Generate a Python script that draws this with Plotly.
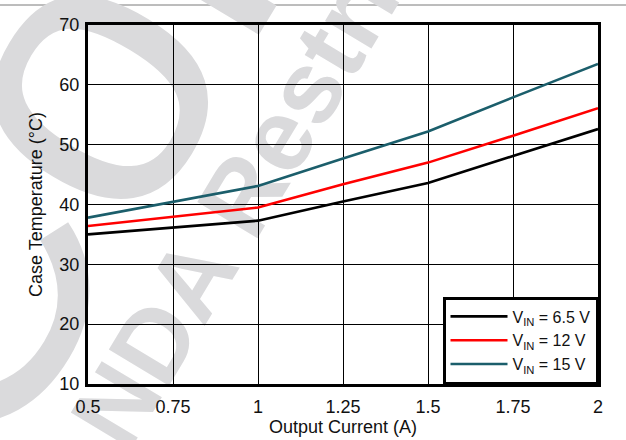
import plotly.graph_objects as go

# ---- data ----
current = [0.5, 0.75, 1.0, 1.25, 1.5, 1.75, 2.0]
temp_vin_6p5 = [35.0, 36.1, 37.3, 40.5, 43.6, 48.1, 52.6]
temp_vin_12 = [36.4, 37.9, 39.5, 43.4, 47.0, 51.5, 56.1]
temp_vin_15 = [37.8, 40.4, 43.1, 47.7, 52.2, 57.9, 63.5]
series_names = ["V<sub>IN</sub> = 6.5 V", "V<sub>IN</sub> = 12 V", "V<sub>IN</sub> = 15 V"]
series_colors = ["#000000", "#FF0000", "#1B5E6B"]

x_tickvals = [0.5, 0.75, 1.0, 1.25, 1.5, 1.75, 2.0]
x_ticktext = ["0.5", "0.75", "1", "1.25", "1.5", "1.75", "2"]
y_tickvals = [10, 20, 30, 40, 50, 60, 70]
y_ticktext = ["10", "20", "30", "40", "50", "60", "70"]

watermark_big = "TI Confidential"
watermark_small = "<b>– NDA Restrictions</b>"

# ---- layout geometry ----
W, H = 626, 440
L, R, T, B = 88, 28, 25, 56
PW, PH = W - L - R, H - T - B


def to_paper(px, py):
    return (px - L) / PW, (H - B - py) / PH


FONT = "Liberation Sans, Arial, sans-serif"
WM_COLOR = "#DADADC"

fig = go.Figure()
for ys, name, col in zip([temp_vin_6p5, temp_vin_12, temp_vin_15], series_names, series_colors):
    fig.add_trace(go.Scatter(x=current, y=ys, mode="lines", name=name,
                             line=dict(color=col, width=2.6)))

shapes = []
# top separator rule
x0p, y0p = to_paper(0, 5)
x1p, _ = to_paper(W, 5)
shapes.append(dict(type="line", xref="paper", yref="paper", x0=x0p, x1=x1p, y0=y0p, y1=y0p,
                   line=dict(color="#7A7A7A", width=1), layer="below"))


def wm_label(cx, cy, text, size):
    xp, yp = to_paper(cx, cy)
    d = 0.001
    return dict(type="rect", xref="paper", yref="paper", x0=xp - d, x1=xp + d, y0=yp - d, y1=yp + d,
                line=dict(width=0), fillcolor="rgba(0,0,0,0)", layer="below",
                label=dict(text=text, textangle=-59, textposition="middle center",
                           font=dict(family=FONT, size=size, color=WM_COLOR)))


# watermark (behind grid and traces)
shapes.append(wm_label(254, -291, watermark_big, 390))
shapes.append(wm_label(282, 110, watermark_small, 102))

fig.update_layout(
    width=W, height=H,
    margin=dict(l=L, r=R, t=T, b=B, pad=0, autoexpand=False),
    paper_bgcolor="white", plot_bgcolor="rgba(0,0,0,0)",
    font=dict(family=FONT, size=18, color="#111111"),
    shapes=shapes,
    showlegend=True,
    legend=dict(x=1, y=0, xanchor="right", yanchor="bottom",
                bgcolor="white", bordercolor="black", borderwidth=2.5,
                font=dict(family=FONT, size=16, color="#111111"),
                tracegroupgap=0, itemwidth=57),
    xaxis=dict(range=[0.5, 2.0], tickvals=x_tickvals, ticktext=x_ticktext,
               showgrid=True, gridcolor="black", gridwidth=1,
               showline=True, linecolor="black", linewidth=3, mirror=True,
               ticks="", zeroline=False, ticklabelstandoff=4, automargin=False,
               title=dict(text="Output Current (A)", standoff=4,
                          font=dict(family=FONT, size=18, color="#111111"))),
    yaxis=dict(range=[10, 70], tickvals=y_tickvals, ticktext=y_ticktext,
               showgrid=True, gridcolor="black", gridwidth=1,
               showline=True, linecolor="black", linewidth=3, mirror=True,
               ticks="", zeroline=False, ticklabelstandoff=2, automargin=False,
               title=dict(text="Case Temperature (°C)", standoff=13,
                          font=dict(family=FONT, size=18, color="#111111"))),
)

fig.write_html("out.html", config={"displayModeBar": False},
               post_script="document.body.style.margin='0px';")
